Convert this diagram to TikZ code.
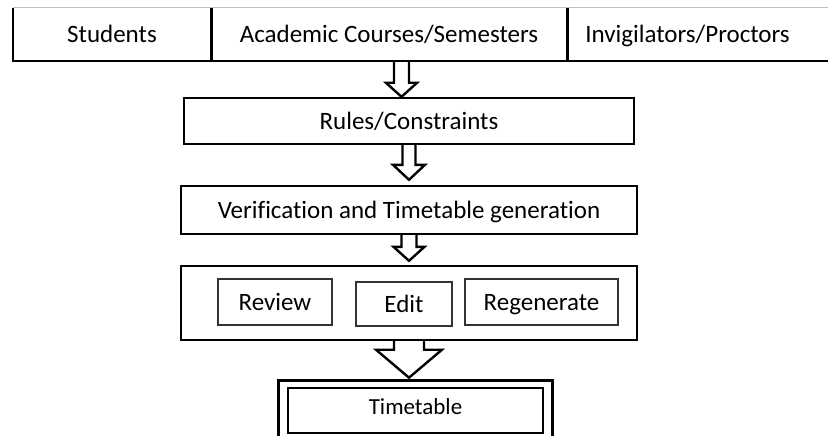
\documentclass[tikz,border=0pt]{standalone}
\usepackage{fontspec}
\setmainfont{Carlito}[Ligatures=CommonOff]
\usetikzlibrary{calc}

\tikzset{
  cell/.style={minimum height=53pt, inner sep=0pt, text height=16.5pt, text depth=0pt,
    font=\fontsize{25}{30}\selectfont},
  stage/.style={draw, line width=2.4pt, minimum height=46pt, inner sep=0pt,
    text height=16.5pt, text depth=0pt, font=\fontsize{25}{30}\selectfont},
  task/.style={draw=black!80, line width=1.4pt, minimum height=46pt, inner sep=0pt,
    text height=16.5pt, text depth=0pt, font=\fontsize{25}{30}\selectfont},
  rowline/.style={line width=2.6pt},
  frame/.style={line width=2.6pt},
  hollow/.style={draw, line width=2.4pt, line join=miter},
}

% hollow block arrow: from, to, shaft half width, head half width, head length
\newcommand{\blockarrow}[5]{%
  \draw[hollow] let \p1=(#1), \p2=(#2) in
    (\x1-#3,\y1) -- (\x1-#3,\y2+#5) -- (\x1-#4,\y2+#5) -- (\x1,\y2)
    -- (\x1+#4,\y2+#5) -- (\x1+#3,\y2+#5) -- (\x1+#3,\y1);
}

\begin{document}
\begin{tikzpicture}[x=1pt,y=-1pt]

% Page, in pixels of the drawing
\useasboundingbox (0,0) rectangle (828,436);
\clip (0,0) rectangle (828,436);

% Inputs
\node[cell, minimum width=198pt] (stud) at (112,34.5) {Students};
\node[cell, minimum width=356pt] (course) at (389,34.5) {Academic Courses/Semesters};
\node[cell, minimum width=241pt] (invig) at (687.5,34.5) {Invigilators/Proctors};

\draw[gray!50, line width=0.8pt] (stud.north west) -- ($(invig.north east)+(25,0)$);
\draw[rowline] (stud.north west) -- (stud.south west) -- ($(invig.south east)+(25,0)$);
\draw[rowline] (stud.north east) -- (stud.south east);
\draw[rowline] (course.north east) -- (course.south east);

% Stages
\node[stage, minimum width=450pt] (rules) at (409,121) {Rules/Constraints};
\node[stage, minimum width=456pt, minimum height=48pt] (verif) at (409,210) {Verification and Timetable generation};
\node[stage, minimum width=456pt, minimum height=74pt] (check) at (409,303) {};

\node[task, minimum width=114pt] (review) at (275,302) {Review};
\node[task, minimum width=96pt, minimum height=44pt] (edit) at (404,304) {Edit};
\node[task, minimum width=153pt] (regen) at (541.5,302) {Regenerate};

% Output
\node[stage, line width=2.6pt, minimum width=255pt, minimum height=45pt, text depth=8pt,
  font=\fontsize{23}{27}\selectfont] (tt) at (415.5,410.5) {Timetable};
\draw[frame] ($(tt.south west)+(-8,12)$) |- ($(tt.north east)+(8,-6)$) -- ++(0,60);

% Arrows
\coordinate (feed) at ($(course.south)+(12.5,0)$);
\blockarrow{feed}{rules.north}{7.5pt}{15.5pt}{14pt}
\blockarrow{rules.south}{$(verif.north)+(0,-5)$}{6.5pt}{16pt}{15pt}
\blockarrow{verif.south}{$(check.north)+(0,-4)$}{7.5pt}{15.5pt}{14pt}
\blockarrow{check.south}{$(tt.north)+(0,-9)$}{15pt}{33pt}{28pt}

\end{tikzpicture}
\end{document}
